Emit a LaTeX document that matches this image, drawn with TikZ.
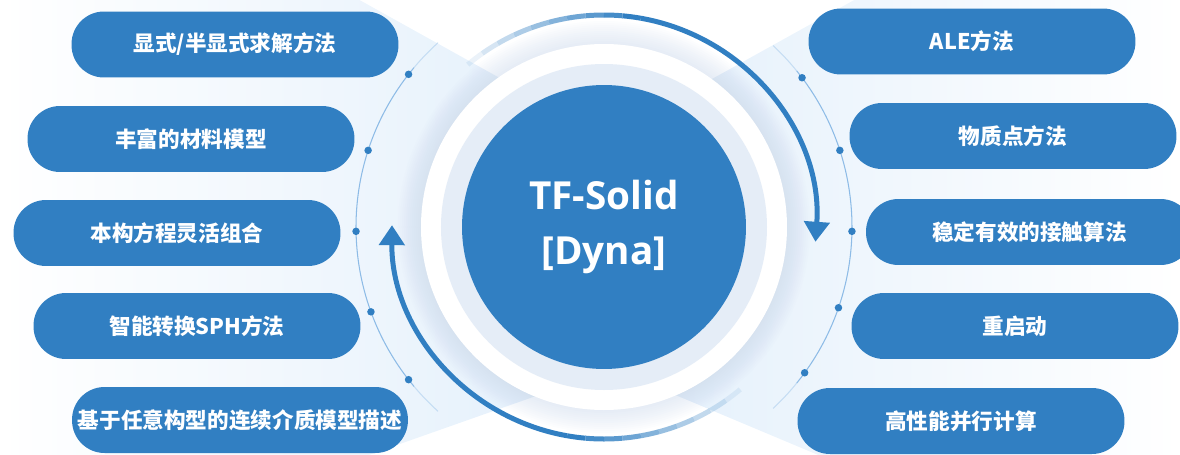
\documentclass[tikz,border=0pt]{standalone}
\usepackage{fontspec}
\newfontfamily\cjk{Noto Sans CJK SC}
\newfontfamily\titlefont{Open Sans}
\usetikzlibrary{arrows.meta}
\definecolor{pillblue}{HTML}{317FC2}
\definecolor{fanblue}{HTML}{E2EFFB}
\definecolor{ringgrey}{HTML}{E5EDF7}
\definecolor{glowblue}{HTML}{C9D7EB}
\definecolor{thinblue}{HTML}{8DBBE6}

\begin{document}
\begin{tikzpicture}[x=0.02cm, y=0.02cm,
    pill/.style={fill=pillblue, text=white, rounded corners=0.65cm, minimum width=6.54cm, minimum height=1.32cm, font=\cjk\bfseries\fontsize{12.3}{15}\selectfont},
    core/.style={circle, fill=pillblue, text=white, minimum size=5.68cm, align=center, font=\titlefont\bfseries\fontsize{22}{31}\selectfont},
    bigarc/.style={pillblue, line width=0.1cm},
    thinarc/.style={thinblue, line width=0.6pt},
    knot/.style={circle, fill=pillblue, inner sep=0pt, minimum size=0.15cm}
    ]

    \useasboundingbox (-604,-227) rectangle (576,227);
    \clip (-604,-227) rectangle (576,227);

    \shade[left color=white, right color=fanblue] (0,91) -- (-604,427) -- (-604,-358) -- (0,-145) -- cycle;
    \shade[left color=fanblue, right color=white] (0,88) -- (576,408) -- (576,-380) -- (0,-138) -- cycle;

    \foreach \r in {184,186,...,206}
        \fill[glowblue, opacity=0.05] (0,0) circle[radius=\r];
    \fill[white] (0,0) circle[radius=183];
    \fill[ringgrey] (0,0) circle[radius=163];
    \node[core] (core) at (0,0) {TF-Solid\\{[Dyna]}};

    \draw[thinarc, opacity=0.4] (132:248) arc[start angle=132, end angle=140, radius=248];
    \draw[thinarc] (140:248) arc[start angle=140, end angle=220, radius=248];
    \draw[thinarc, opacity=0.4] (220:248) arc[start angle=220, end angle=228, radius=248];
    \draw[thinarc, opacity=0.4] (-47:248) arc[start angle=-47, end angle=-39, radius=248];
    \draw[thinarc] (-39:248) arc[start angle=-39, end angle=39, radius=248];
    \draw[thinarc, opacity=0.4] (39:248) arc[start angle=39, end angle=47, radius=248];

    \foreach \a [count=\i] in {142,162,181,200,218}
        \node[knot] (lk\i) at (\a:248) {};
    \foreach \a [count=\i] in {37,18,-1,-19,-36}
        \node[knot] (rk\i) at (\a:248) {};

    \foreach \i [evaluate=\i as \op using (\i+1)/10, evaluate=\i as \a using 130-5*\i] in {0,...,9}
        \draw[bigarc, draw opacity=\op] (\a:212) arc[start angle=\a, end angle=\a-5, radius=212];
    \draw[bigarc, -{Triangle[width=0.5cm, length=0.4cm]}] (80:212) arc[start angle=80, end angle=-4, radius=212];
    \foreach \i [evaluate=\i as \op using (\i+1)/10, evaluate=\i as \a using -50-5*\i] in {0,...,9}
        \draw[bigarc, draw opacity=\op] (\a:212) arc[start angle=\a, end angle=\a-5, radius=212];
    \draw[bigarc, -{Triangle[width=0.5cm, length=0.4cm]}] (-100:212) arc[start angle=-100, end angle=-180.5, radius=212];

    \node[pill] (explicit) at (-369,182.5) {显式/半显式求解方法};
    \node[pill] (material) at (-413,88) {丰富的材料模型};
    \node[pill] (constit) at (-427,-6) {本构方程灵活组合};
    \node[pill] (sph) at (-407,-99) {智能转换SPH方法};
    \node[pill] (continuum) at (-364,-193) {基于任意构型的连续介质模型描述};

    \node[pill] (ale) at (368,185.5) {ALE方法};
    \node[pill] (mpm) at (409,91) {物质点方法};
    \node[pill] (contact) at (425.5,-5) {稳定有效的接触算法};
    \node[pill] (restart) at (411,-99) {重启动};
    \node[pill] (parallel) at (357,-194) {高性能并行计算};

\end{tikzpicture}
\end{document}
